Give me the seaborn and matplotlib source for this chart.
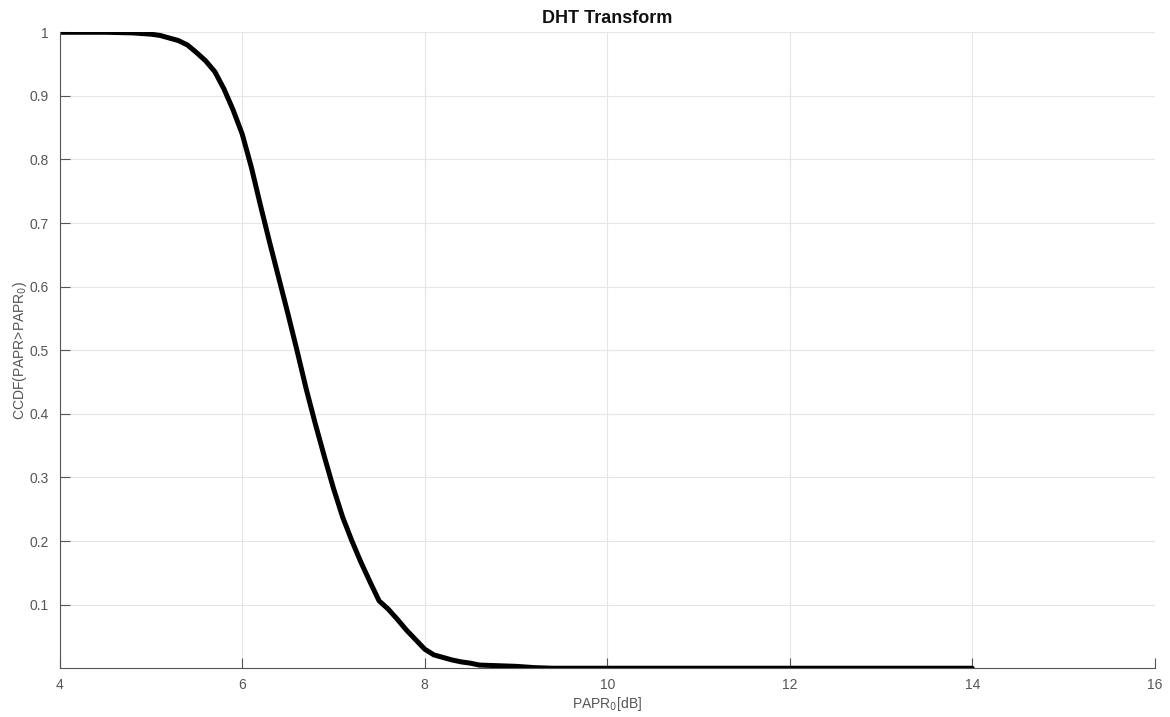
import numpy as np
import pandas as pd
import seaborn as sns
import matplotlib
matplotlib.use("Agg")
import matplotlib.pyplot as plt

# values
papr_db = [4.0, 4.5, 4.8, 5.0, 5.1, 5.2, 5.3, 5.4, 5.5, 5.6, 5.7, 5.8, 5.9,
           6.0, 6.1, 6.2, 6.3, 6.4, 6.5, 6.6, 6.7, 6.8, 6.9, 7.0, 7.1, 7.2,
           7.3, 7.4, 7.5, 7.6, 7.7, 7.8, 7.9, 8.0, 8.1, 8.2, 8.3, 8.4, 8.5,
           8.6, 8.8, 9.0, 9.2, 9.4, 14.0]
ccdf = [1.0, 1.0, 0.999, 0.997, 0.995, 0.991, 0.987, 0.980, 0.968, 0.955,
        0.938, 0.911, 0.878, 0.840, 0.788, 0.728, 0.670, 0.614, 0.558, 0.500,
        0.440, 0.385, 0.333, 0.283, 0.238, 0.201, 0.167, 0.136, 0.106, 0.093,
        0.077, 0.060, 0.045, 0.030, 0.021, 0.017, 0.013, 0.010, 0.008, 0.005,
        0.004, 0.003, 0.001, 0.0, 0.0]
x_ticks = [4, 6, 8, 10, 12, 14, 16]
y_ticks = [0.1, 0.2, 0.3, 0.4, 0.5, 0.6, 0.7, 0.8, 0.9, 1.0]
y_tick_labels = ["0.1", "0.2", "0.3", "0.4", "0.5", "0.6", "0.7", "0.8", "0.9", "1"]

df = pd.DataFrame({"papr": papr_db, "ccdf": ccdf})

sns.set_style("whitegrid")
plt.rcParams["font.family"] = ["Liberation Sans", "DejaVu Sans"]

fig, ax = plt.subplots(figsize=(11.7, 7.17), dpi=100)
fig.subplots_adjust(left=0.051, right=0.987, top=0.955, bottom=0.068)

sns.lineplot(data=df, x="papr", y="ccdf", ax=ax, color="black", linewidth=3.6)

ax.set_xlim(4, 16)
ax.set_ylim(0, 1)
ax.set_xticks(x_ticks)
ax.set_yticks(y_ticks)
ax.set_yticklabels(y_tick_labels)
ax.grid(True, color="#e6e6e6", linewidth=0.8)
ax.set_axisbelow(True)

for side in ["top", "right"]:
    ax.spines[side].set_visible(False)
for side in ["left", "bottom"]:
    ax.spines[side].set_color("#555555")
    ax.spines[side].set_linewidth(0.8)
ax.tick_params(axis="both", bottom=True, left=True, direction="in", length=7,
               width=0.8, color="#555555", labelcolor="#555555", labelsize=10)
ax.tick_params(axis="x", pad=7)
ax.tick_params(axis="y", pad=8)

ax.set_title("DHT Transform", fontsize=13, fontweight="bold", pad=7, color="#111111")
ax.set_xlabel("PAPR$_0$[dB]", fontsize=10, color="#555555", labelpad=2)
ax.set_ylabel("CCDF(PAPR>PAPR$_0$)", fontsize=10, color="#555555", labelpad=0)

fig.savefig("out.png", dpi=100)
